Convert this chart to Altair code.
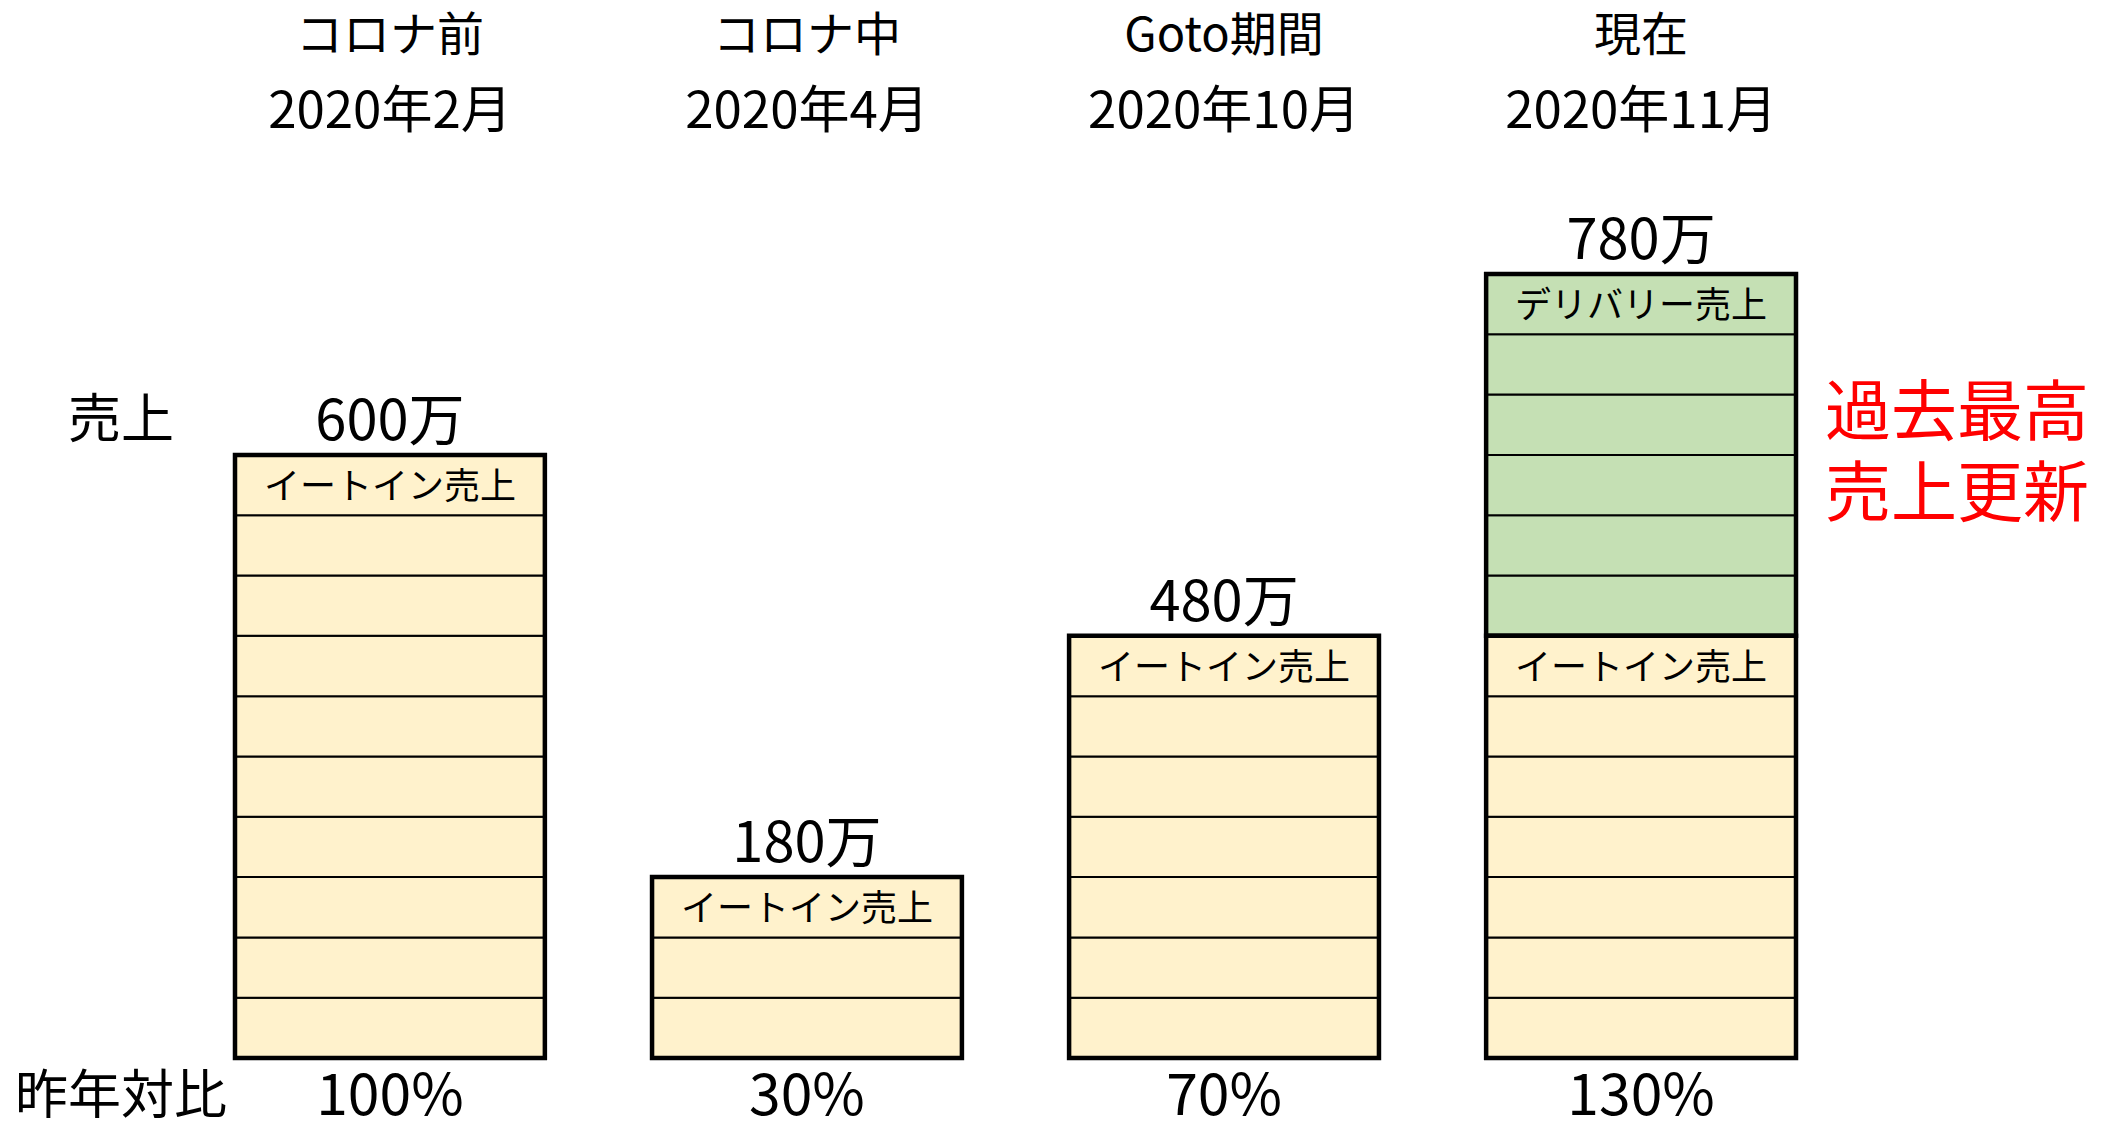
import altair as alt
import pandas as pd

# ---- data ----
categories = ["コロナ前", "コロナ中", "Goto期間", "現在"]
periods = ["2020年2月", "2020年4月", "2020年10月", "2020年11月"]
sales_labels = ["600万", "180万", "480万", "780万"]
yoy_labels = ["100%", "30%", "70%", "130%"]
eatin_cells = [10, 3, 7, 7]
delivery_cells = [0, 0, 0, 6]
segment_names = ["イートイン売上", "デリバリー売上"]
row_titles = ["売上", "昨年対比"]
note_lines = ["過去最高", "売上更新"]

FONT = "Noto Sans CJK JP"

# ---- tables built from the arrays ----
cell_rows, seg_rows = [], []
for c, e, d in zip(categories, eatin_cells, delivery_cells):
    for k in range(e):
        cell_rows.append({"cat": c, "y0": k, "y1": k + 1, "seg": "eatin"})
    for k in range(d):
        cell_rows.append({"cat": c, "y0": e + k, "y1": e + k + 1, "seg": "delivery"})
    seg_rows.append({"cat": c, "y0": 0, "y1": e, "label": segment_names[0], "ly": e - 0.5})
    if d > 0:
        seg_rows.append({"cat": c, "y0": e, "y1": e + d, "label": segment_names[1], "ly": e + d - 0.5})
cells = pd.DataFrame(cell_rows)
segs = pd.DataFrame(seg_rows)
bars = pd.DataFrame({
    "cat": categories,
    "period": periods,
    "sales": sales_labels,
    "yoy": yoy_labels,
    "total": [e + d for e, d in zip(eatin_cells, delivery_cells)],
})
rows = pd.DataFrame({"t": row_titles, "py": [414, 1090]})
notes = pd.DataFrame({"t": ["\n".join(note_lines)], "py": [407]})

xs = alt.Scale(domain=categories, range=[227, 1788], paddingInner=0.257, paddingOuter=0)
ys = alt.Scale(domain=[0, 17.41], range=[1050, 0], nice=False, zero=False)
X = alt.X("cat:N", scale=xs, axis=None)

cell_layer = alt.Chart(cells).mark_rect(stroke="black", strokeWidth=2).encode(
    x=X,
    y=alt.Y("y0:Q", scale=ys, axis=None),
    y2="y1:Q",
    color=alt.Color("seg:N", scale=alt.Scale(domain=["eatin", "delivery"],
                                              range=["#FFF2CC", "#C5E0B4"]), legend=None),
)

seg_layer = alt.Chart(segs).mark_rect(fillOpacity=0, stroke="black", strokeWidth=4.5).encode(
    x=X,
    y=alt.Y("y0:Q", scale=ys, axis=None),
    y2="y1:Q",
)

seg_text = alt.Chart(segs).mark_text(font=FONT, fontSize=36, color="black",
                                     baseline="middle", dy=3).encode(
    x=X,
    y=alt.Y("ly:Q", scale=ys, axis=None),
    text="label:N",
)

value_text = alt.Chart(bars).mark_text(font=FONT, fontSize=56, color="black",
                                       baseline="middle", dy=-32).encode(
    x=X,
    y=alt.Y("total:Q", scale=ys, axis=None),
    text="sales:N",
)

head1 = alt.Chart(bars).mark_text(font=FONT, fontSize=47, color="black", baseline="middle").encode(
    x=X, y=alt.value(29), text="cat:N")
head2 = alt.Chart(bars).mark_text(font=FONT, fontSize=51, color="black", baseline="middle").encode(
    x=X, y=alt.value(105), text="period:N")
yoy_text = alt.Chart(bars).mark_text(font=FONT, fontSize=57, color="black", baseline="middle").encode(
    x=X, y=alt.value(1090), text="yoy:N")

row_text = alt.Chart(rows).mark_text(font=FONT, fontSize=53, color="black", baseline="middle").encode(
    x=alt.value(113), y=alt.Y("py:Q", scale=None), text="t:N")

note_text = alt.Chart(notes).mark_text(font=FONT, fontSize=66, color="#FF0000", baseline="middle",
                                       lineBreak="\n", lineHeight=81).encode(
    x=alt.value(1949), y=alt.Y("py:Q", scale=None), text="t:N")

chart = alt.layer(
    cell_layer, seg_layer, seg_text, value_text, head1, head2, yoy_text, row_text, note_text
).resolve_scale(y="independent").properties(
    width=2093, height=1110, padding=0,
    autosize=alt.AutoSizeParams(type="none"),
).configure_view(stroke=None)

chart.save("out.html", embed_options={"renderer": "svg", "actions": False})
